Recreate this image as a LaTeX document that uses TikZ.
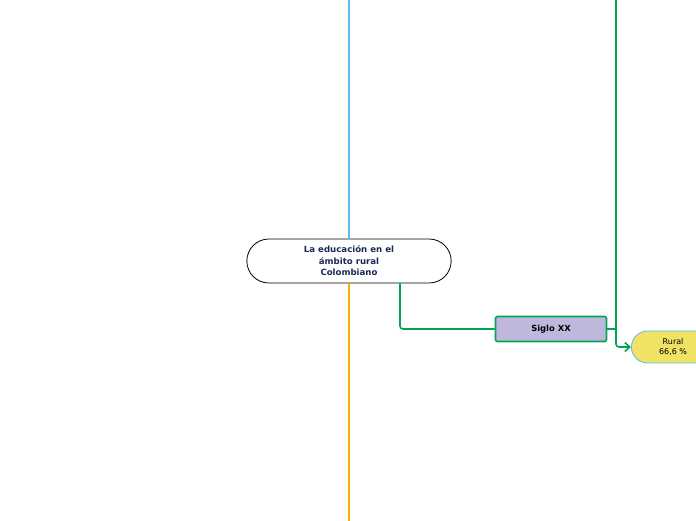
\documentclass[tikz,border=0pt]{standalone}
\usepackage{fontspec}
\setmainfont{DejaVu Sans}
\usetikzlibrary{positioning, arrows.meta, shapes.misc}
\definecolor{navytxt}{HTML}{1B2A55}
\definecolor{skyline}{HTML}{5BBDEB}
\definecolor{orangeline}{HTML}{F5B000}
\definecolor{greenline}{HTML}{00A651}
\definecolor{lilac}{HTML}{C0B8DC}
\definecolor{lemon}{HTML}{F0E264}

\begin{document}
\begin{tikzpicture}[x=1pt,y=-1pt,
	font=\fontsize{8}{11.5}\selectfont]
	\tikzstyle{mainidea}=[draw=black,line width=0.8pt,rounded rectangle,
		minimum width=211pt,minimum height=44pt,align=center,
		text=navytxt,font=\fontsize{8.6}{11.5}\selectfont\bfseries]
	\tikzstyle{topic}=[draw=greenline,fill=lilac,line width=1.6pt,rounded corners=2pt,
		minimum width=111pt,minimum height=25pt,font=\fontsize{8.4}{10}\selectfont\bfseries]
	\tikzstyle{subtopic}=[draw=skyline,fill=lemon,line width=0.8pt,rounded rectangle,
		minimum width=90pt,minimum height=32pt,align=center,
		font=\fontsize{8}{10.5}\selectfont]
	\tikzstyle{link}=[line width=1.6pt,rounded corners=3pt]
	\useasboundingbox (0,0) rectangle (696,520);
	\clip (0,0) rectangle (696,520);
	\node[mainidea] (main) at (349,261) {La educación en el\\ámbito rural\\Colombiano};
	\node[topic] (siglo) at (551,329) {Siglo XX};
	\node[subtopic,anchor=west] (rural) at (631,347) {Rural\\66,6 \%};
	\coordinate (topblue) at (349,-2);
	\coordinate (botorange) at (349,522);
	\coordinate (topgreen) at (616,-2);
	\draw[link,skyline] (main.north) -- (topblue);
	\draw[link,orangeline] (main.south) -- (botorange);
	\draw[link,greenline] (main.south -| 400,0) |- (siglo.west);
	\draw[link,greenline] (siglo.east) -- (616,329);
	\draw[link,greenline,-{Straight Barb[length=5pt,width=9pt]}] (topgreen) |- (rural.west);
\end{tikzpicture}
\end{document}
